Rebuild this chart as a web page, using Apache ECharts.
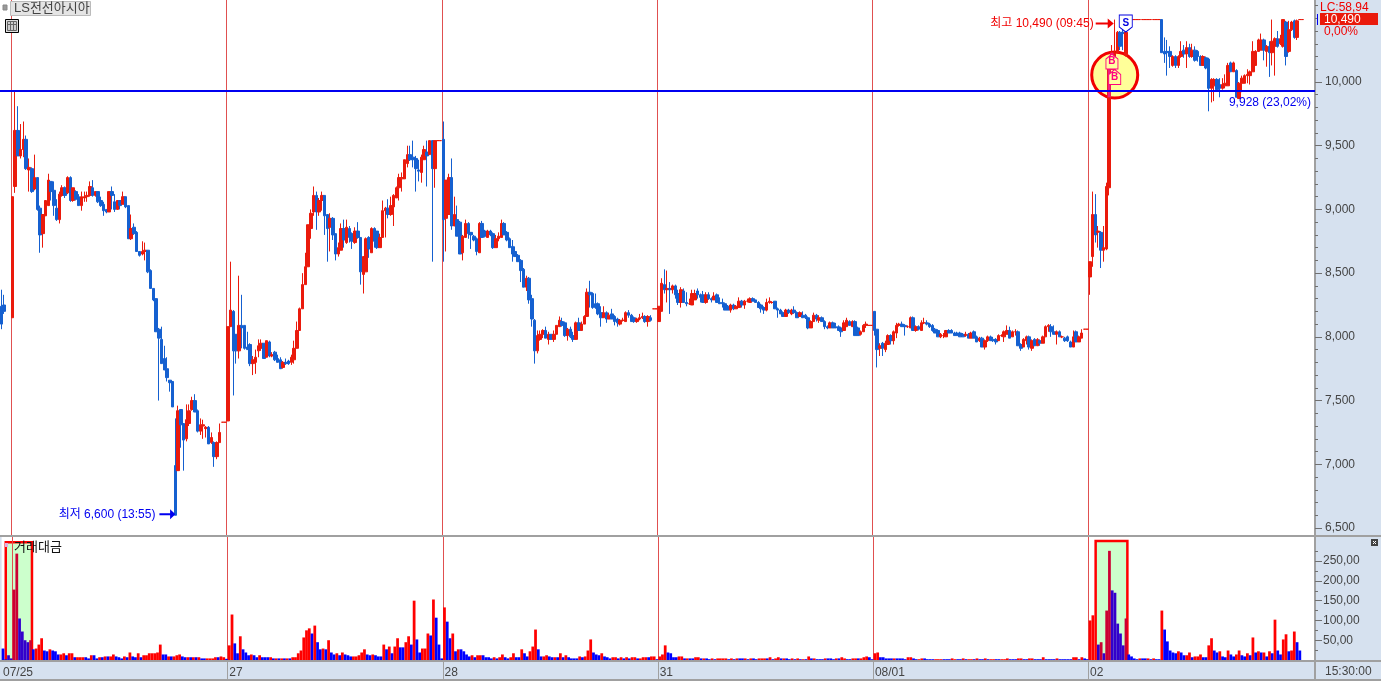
<!DOCTYPE html>
<html><head><meta charset="utf-8">
<style>html,body{margin:0;padding:0;background:#D6E1EF;overflow:hidden}#c{width:1381px;height:681px}</style>
<script src="https://cdn.jsdelivr.net/npm/echarts@6/dist/echarts.min.js"></script>
</head><body><div id="c"></div>
<script>
// rows are [open, close, low, high]
const ohlcPrev = [[8240,8100,8060,8370],[8250,8200,8180,8330],null,null];
const ohlc0725 = [
[8150,9100,8150,9100],[9180,9620,9130,9928],[9620,9420,9420,9810],[9420,9470,9400,9670],[9470,9550,9410,9690],[9550,9320,9310,9580],[9310,9330,9140,9400],[9320,9140,9130,9330],[9160,9250,9150,9430],[9250,9000,8990,9250],
[9010,8800,8660,9030],[8810,8960,8700,8960],[8950,9070,8950,9070],[9030,9230,9030,9280],[9220,9140,9070,9220],[9150,9030,8950,9220],[9010,8920,8910,9080],[8920,9120,8890,9140],[9110,9170,9100,9190],[9170,9110,9090,9180],
[9130,9250,9120,9260],[9250,9070,9060,9260],[9070,9170,9060,9170],[9140,9080,9070,9150],[9100,9030,9030,9120],[9030,9100,8990,9140],[9090,9100,9060,9140],[9100,9110,9060,9140],[9110,9180,9100,9220],[9170,9110,9100,9230],
[9110,9140,9100,9140],[9140,9060,9050,9140],[9070,9030,9020,9100],[9040,8990,8950,9060],[9000,8980,8970,9000],[8980,9140,8980,9140],[9140,9110,9000,9180],[9060,9000,8980,9120],[9000,9070,9000,9070],[9070,9030,9000,9070],
[9040,9100,9040,9140],[9100,9020,9010,9100],[9030,8770,8770,9030],[8770,8850,8760,8960],[8860,8810,8800,8890],[8820,8670,8670,8830],[8670,8640,8630,8670],[8650,8670,8640,8750],[8670,8680,8600,8740],[8680,8510,8500,8680],
[8520,8380,8380,8530],[8380,8290,8280,8380],[8300,8040,8040,8300],[8060,7990,7500,8070],[7980,7790,7790,8080],[7830,7740,7740,7930],[7750,7680,7650,7840],[7660,7640,7570,7660],[7650,7450,7450,7650],[6990,6600,6600,7360],
[6950,7420,6950,7460],[7430,7310,7130,7430],[7320,7190,6950,7320],[7200,7350,7180,7470],[7320,7420,7300,7470],[7430,7500,7420,7530],[7500,7410,7410,7550],[7420,7260,7250,7430],[7260,7310,7230,7360],[7300,7310,7200,7350],
[7280,7290,7210,7300],[7290,7160,7160,7300],[7170,7210,7160,7250],[7170,7060,6980,7180],[7060,7170,7040,7180],[7170,7250,7170,7320],[7330,7330,7330,7330],[7330,7330,7330,7330]];
const ohlc0727 = [
[7340,8080,7340,8080],[8080,8210,8080,8590],[8200,7890,7540,8210],[8020,7890,7790,8020],[7890,8090,7830,8480],[8090,8070,7910,8330],[8090,7910,7900,8090],[7920,7900,7900,8040],[7940,7790,7770,7950],[7790,7820,7700,7850],
[7800,7840,7710,7900],[7890,7930,7840,7980],[7910,7950,7890,7980],[7950,7830,7830,7950],[7840,7970,7840,7970],[7960,7850,7840,7970],[7850,7860,7840,7880],[7880,7820,7810,7890],[7830,7800,7800,7860],[7820,7750,7750,7840],
[7760,7800,7750,7810],[7800,7790,7780,7830],[7810,7790,7780,7820],[7800,7840,7780,7860],[7820,7910,7790,7970],[7910,8050,7910,8120],[8050,8220,8050,8230],[8220,8410,8220,8500],[8410,8550,8410,8660],[8550,8880,8550,8880],
[8850,8970,8770,9000],[8980,9110,8950,9180],[9110,8980,8840,9140],[8980,9070,8950,9090],[9070,9110,8990,9140],[9110,8950,8800,9110],[8960,8850,8590,8960],[8860,8930,8670,8970],[8930,8800,8760,8940],[8810,8650,8600,8810],
[8650,8700,8630,8740],[8680,8850,8680,8890],[8850,8760,8700,8920],[8740,8860,8730,8920],[8850,8780,8740,8870],[8810,8750,8690,8820],[8740,8830,8730,8860],[8830,8780,8770,8900],[8780,8510,8410,8780],[8490,8630,8340,8630],
[8510,8770,8510,8780],[8780,8690,8620,8790],[8660,8850,8660,8860],[8850,8750,8700,8860],[8830,8700,8690,8830],[8700,8780,8700,8810],[8780,8990,8780,9070],[8990,9010,8780,9020],[9010,8960,8930,9080],[8960,9030,8950,9100],
[9020,9110,8870,9120],[9090,9170,9090,9180],[9170,9250,9070,9280],[9240,9250,9140,9290],[9240,9390,9240,9390],[9360,9430,9330,9500],[9430,9390,9380,9500],[9410,9390,9330,9540],[9400,9320,9140,9420],[9310,9300,9220,9390],
[9290,9410,9210,9430],[9390,9470,9390,9500],[9450,9420,9180,9540],[9430,9540,9430,9540],[9540,9320,8590,9540],[9320,9540,9170,9540],[9540,9540,9540,9540],[9540,9540,9540,9540]];
const ohlc0728 = [
[9550,8920,8590,9690],[8930,9230,8670,9230],[8960,9250,8960,9280],[9250,8870,8840,9400],[8870,8960,8870,9100],[8920,8790,8790,9030],[8900,8650,8650,8910],[8660,8790,8600,8800],[8780,8890,8780,8920],[8890,8810,8770,8900],
[8820,8800,8690,8820],[8790,8760,8750,8800],[8770,8670,8640,8780],[8660,8890,8660,8900],[8890,8780,8780,8910],[8830,8790,8780,8840],[8780,8830,8780,8840],[8830,8800,8790,8840],[8810,8700,8690,8820],[8700,8770,8700,8800],
[8770,8790,8750,8820],[8780,8890,8780,8920],[8890,8800,8800,8900],[8820,8760,8750,8830],[8770,8700,8700,8780],[8710,8650,8590,8760],[8670,8630,8630,8710],[8640,8590,8590,8650],[8600,8520,8430,8610],[8530,8390,8390,8540],
[8390,8460,8360,8480],[8460,8290,8260,8470],[8300,8140,8080,8330],[8130,7890,7790,8140],[7890,8010,7870,8050],[7980,8020,7970,8050],[8020,8050,7990,8060],[8050,7990,7990,8080],[7980,8020,7940,8040],[8020,7980,7980,8020],
[7980,8020,7960,8050],[8020,8090,8020,8090],[8080,8130,8080,8160],[8120,8090,8080,8150],[8110,8010,8000,8120],[8010,8060,7970,8070],[8060,8000,7990,8080],[8010,7980,7960,8040],[7980,8110,7980,8120],[8110,8050,8050,8150],
[8050,8100,8050,8120],[8100,8160,8100,8170],[8160,8350,8160,8380],[8350,8330,8230,8440],[8340,8230,8220,8350],[8260,8230,8220,8340],[8260,8180,8170,8270],[8190,8150,8080,8240],[8150,8190,8150,8240],[8190,8140,8110,8200],
[8140,8170,8140,8190],[8180,8140,8140,8220],[8160,8120,8090,8170],[8140,8110,8080,8150],[8100,8130,8090,8140],[8130,8130,8120,8150],[8120,8190,8120,8200],[8190,8170,8150,8210],[8170,8120,8120,8180],[8150,8120,8110,8160],
[8120,8140,8110,8150],[8140,8150,8130,8180],[8150,8160,8140,8190],[8160,8120,8110,8170],[8120,8160,8080,8170],[8150,8130,8120,8170],[8220,8220,8220,8220],[8220,8220,8220,8220]];
const ohlc0731 = [
[8120,8240,8120,8240],[8200,8420,8200,8460],[8410,8370,8340,8530],[8370,8380,8270,8520],[8380,8370,8180,8430],[8370,8400,8340,8410],[8400,8330,8300,8410],[8340,8270,8250,8370],[8270,8370,8230,8390],[8360,8270,8270,8380],
[8270,8260,8240,8350],[8260,8260,8250,8300],[8250,8340,8250,8370],[8290,8340,8290,8370],[8360,8330,8300,8380],[8330,8310,8270,8340],[8330,8270,8270,8360],[8270,8330,8260,8350],[8330,8300,8290,8350],[8300,8290,8270,8310],
[8290,8320,8290,8350],[8330,8270,8270,8340],[8270,8260,8260,8310],[8270,8260,8230,8300],[8260,8210,8210,8270],[8240,8210,8210,8250],[8210,8250,8190,8260],[8250,8220,8210,8260],[8220,8240,8220,8250],[8230,8280,8230,8310],
[8280,8250,8230,8290],[8250,8280,8220,8290],[8280,8280,8270,8300],[8270,8300,8270,8310],[8300,8280,8280,8310],[8290,8270,8270,8290],[8270,8230,8230,8280],[8250,8220,8190,8260],[8230,8210,8180,8240],[8210,8270,8200,8300],
[8270,8280,8260,8310],[8270,8270,8260,8280],[8280,8220,8220,8280],[8220,8210,8150,8230],[8210,8180,8180,8220],[8190,8160,8160,8200],[8160,8210,8160,8220],[8210,8190,8180,8220],[8180,8210,8170,8220],[8210,8190,8180,8240],
[8190,8150,8150,8200],[8160,8190,8160,8200],[8170,8150,8150,8200],[8170,8150,8140,8180],[8150,8070,8060,8160],[8070,8120,8070,8130],[8120,8170,8120,8190],[8170,8140,8120,8180],[8130,8150,8110,8170],[8150,8120,8120,8160],
[8120,8080,8060,8130],[8080,8070,8060,8090],[8070,8110,8070,8120],[8110,8070,8070,8120],[8080,8070,8070,8110],[8080,8050,8050,8090],[8070,8040,8000,8080],[8050,8110,8050,8130],[8080,8130,8080,8150],[8120,8090,8090,8130],
[8080,8120,8080,8130],[8120,8010,8010,8130],[8070,8010,8010,8080],[8020,8040,8010,8050],[8040,8090,8040,8100],[8090,8100,8070,8120],[8090,8090,8090,8090],[8090,8090,8090,8090]];
const ohlc0801 = [
[8200,8050,8010,8200],[8060,7900,7760,8060],[7910,7930,7850,7950],[7950,7910,7850,7960],[7900,7950,7880,7970],[7940,8010,7940,8020],[8010,7970,7940,8020],[7970,8040,7940,8050],[8030,8090,7990,8110],[8090,8100,8080,8110],
[8100,8080,8080,8120],[8090,8080,8010,8100],[8080,8080,8070,8090],[8070,8150,8070,8160],[8150,8050,8050,8160],[8050,8080,8040,8090],[8080,8060,8050,8090],[8050,8110,8050,8130],[8110,8110,8100,8150],[8110,8100,8090,8130],
[8100,8080,8070,8110],[8090,8050,8040,8100],[8060,8030,8030,8070],[8050,8000,8000,8060],[8000,8020,7990,8030],[8010,8010,7990,8030],[8000,8050,8000,8050],[8050,8030,8030,8060],[8050,8030,8030,8060],[8030,8010,8010,8040],
[8030,8010,8010,8040],[8030,8000,8000,8040],[8020,8000,8000,8030],[8010,8020,8000,8040],[8020,7990,7990,8030],[7990,8030,7990,8040],[8040,7990,7990,8050],[8000,7960,7960,8010],[7970,7990,7960,8000],[7990,7920,7920,8000],
[7920,7970,7900,7980],[7970,8000,7960,8010],[8000,7970,7970,8010],[7980,7970,7960,8000],[7980,7960,7940,7990],[7970,8010,7970,8020],[8010,8010,8000,8020],[8000,8040,7960,8050],[8020,8050,8020,8090],[8050,7990,7990,8080],
[8000,8040,8000,8050],[8040,8040,8010,8060],[8040,7930,7930,8050],[7940,7910,7890,7950],[7920,7980,7920,7990],[7970,8000,7940,8010],[8000,7920,7900,8010],[7910,7970,7890,7980],[7980,7930,7930,7990],[7930,7980,7930,7990],
[7970,7950,7930,7980],[7950,8000,7950,8010],[8000,8080,8000,8090],[8080,8090,8040,8100],[8080,8040,8000,8100],[8040,8020,8020,8090],[8020,8040,7940,8050],[8040,8000,8000,8050],[8000,8000,7990,8010],[7990,7970,7960,8000],
[8000,7970,7960,8010],[7960,7920,7920,7970],[7920,8000,7920,8050],[8040,7960,7960,8050],[7960,8000,7960,8010],[7990,8030,7990,8060],[8060,8060,8060,8060],[8060,8060,8060,8060]];
const ohlc0802 = [
[8470,8590,8330,8590],[8630,8960,8550,9140],[8960,8800,8740,9120],[8820,8830,8700,8870],[8820,8680,8540,8830],[8680,8700,8590,8870],[8690,9180,8680,9210],[9170,10100,9110,10110],[10100,10230,10100,10290],[10100,10230,10090,10490],
[10230,10390,10230,10400],[10390,10280,10250,10400],[10390,10380,10250,10490],[10210,10390,10200,10490],[10490,10490,10490,10490],[10490,10490,10490,10490],[10490,10490,10490,10490],[10490,10490,10490,10490],[10490,10490,10490,10490],[10490,10490,10490,10490],
[10490,10490,10490,10490],[10490,10490,10490,10490],[10490,10490,10490,10490],[10490,10490,10490,10490],[10490,10490,10490,10490],[10490,10490,10490,10490],[10490,10230,10230,10490],[10240,10220,10150,10350],[10240,10230,10050,10330],[10240,10200,10110,10280],
[10130,10200,10120,10210],[10200,10130,10110,10210],[10130,10200,10110,10210],[10200,10240,10190,10320],[10250,10220,10190,10290],[10220,10270,10110,10320],[10270,10200,10190,10300],[10200,10250,10190,10300],[10250,10170,10160,10280],[10240,10200,10160,10250],
[10200,10130,10130,10210],[10130,10200,10130,10210],[10190,10110,10100,10200],[10180,9950,9770,10190],[9950,10020,9840,10030],[9970,10020,9850,10030],[10020,9940,9930,10030],[9980,9950,9880,10030],[9950,9980,9940,10030],[9970,9990,9950,10060],
[9970,10130,9970,10150],[10150,10080,10080,10160],[10080,10150,10080,10160],[10090,9880,9880,10100],[9870,9990,9870,10000],[9990,10030,9920,10050],[9990,10050,9990,10060],[10050,10060,9990,10100],[10050,10080,9980,10090],[10080,10240,10080,10320],
[10130,10240,10130,10250],[10240,10330,10240,10340],[10250,10330,10250,10380],[10330,10250,10170,10340],[10240,10280,10120,10290],[10280,10230,10040,10320],[10230,10320,10130,10490],[10280,10340,10050,10350],[10340,10280,10270,10400],[10300,10340,10290,10370],
[10280,10490,10270,10490],[10470,10200,10130,10480],[10240,10410,10230,10480],[10410,10470,10400,10480],[10480,10350,10340,10490],[10350,10480,10330,10490],[10490,10490,10490,10490],[10490,10490,10490,10490]];
const ohlcRows = [...ohlcPrev,...ohlc0725,...ohlc0727,...ohlc0728,...ohlc0731,...ohlc0801,...ohlc0802,null,null,null,null];

// traded value per bar; negative = drawn blue
const volPrev = [-29,-2,-12,-4];
const vol0725 = [178,269,-105,-72,-50,-45,50,-27,29,39, 55,-24,-22,27,-24,-22,-14,14,17,-12, 17,17,-7,7,7,7,-7,-4,12,-12, -4,7,-7,9,-9,9,14,-9,-7,-4, 9,-7,19,-9,-7,17,-7,12,12,17, 17,17,19,39,-14,-14,9,-9,9,12, 14,-9,-7,7,-7,7,-7,7,-4,-4, 4,4,4,7,-7,9,7,-3];
const vol0727 = [37,115,-42,-17,60,-27,-19,-12,14,-12, -7,12,-7,-7,-7,7,-4,4,-4,4, -4,4,-4,7,7,17,24,57,75,80, -67,87,-45,-27,29,-27,50,-19,-14,17, -12,19,-14,-12,-9,9,9,12,19,27, -14,-12,14,-12,-9,-9,39,-27,34,-17, 34,55,-32,-32,45,60,-39,150,-52,-19, 29,29,67,-62,153,-107,-39,-4];
const vol0728 = [133,-97,-55,67,-22,27,-27,-22,-14,-9, 12,-7,12,12,-12,-7,-7,-4,7,-4, 7,14,-7,-4,7,17,-7,-7,27,-17, -9,22,34,77,-27,-9,9,12,-9,-7, 7,-7,17,-7,12,-7,-4,-4,-4,9, -7,9,24,52,-19,-14,-12,17,-9,-7, -4,7,7,-4,7,-4,7,-4,7,7, -4,4,7,7,-7,9,9,-2];
const vol0731 = [9,14,37,-19,-17,-7,-7,9,9,-4, 4,-4,-4,7,7,-4,4,-4,-2,4, -2,4,4,4,4,-2,4,-2,4,-4, -4,4,-2,4,-4,-2,4,4,4,-4, 7,-2,4,7,-4,4,-4,-2,4,-2, 4,-2,2,-2,9,-4,4,-2,-2,-2, 4,-4,-4,-2,4,-4,7,4,-2,-2, 4,4,-4,4,7,9,-7,-2];
const vol0801 = [17,19,-7,-7,-4,-4,-4,4,-4,-4, -4,-2,7,7,-4,-2,2,4,-4,-2, -2,-2,2,2,2,-2,-2,-2,4,2, -2,-2,4,-2,2,2,-2,4,-2,-2, 4,-2,2,2,-2,-2,2,2,4,-2, -2,-2,4,4,-2,-2,4,4,-2,-2, -2,7,-2,-2,-2,-2,4,-2,-2,-2, -2,-2,7,7,-2,7,-4,-2];
const vol0802 = [100,113,0,-39,45,-17,125,276,-176,-170, -92,-67,-37,105,-14,-9,-4,-2,4,-4, -4,4,-2,4,-2,-2,125,-77,-47,-24, -19,-17,22,-19,-12,12,19,-7,9,9, 14,-7,-7,37,55,-24,-19,22,-9,-7, 24,-14,-9,14,24,-12,-9,17,-12,57, -19,22,-19,19,-9,22,-17,102,-24,-14, 52,65,-22,24,72,-45,-24,0];
const volRows = [...volPrev,...vol0725,...vol0727,...vol0728,...vol0731,...vol0801,...vol0802,0,0,0,0];

const dayNames = ['07/25','07/27','07/28','07/31','08/01','08/02'];
const dayFirstBar = [4,82,160,238,316,394];
const dayAxisLabels = ['07/25','27','28','31','08/01','02'];
const dayLabelBar = [0,82,160,238,316,394];
const priceTicks = [6500,7000,7500,8000,8500,9000,9500,10000];
const priceMinorTicks = [6500,6600,6700,6800,6900,7000,7100,7200,7300,7400,7500,7600,7700,7800,7900,8000,8100,8200,8300,8400,8500,8600,8700,8800,8900,9000,9100,9200,9300,9400,9500,9600,9700,9800,9900,10000,10100,10200,10300,10400,10500,10600];
const volTicks = [50,100,150,200,250];
const volMinorTicks = [25,75,125,175,225,275];
const highBar = 403, lowBar = 63, lowValue = 6600, markLevel = 9928;
const highlightBoxes = [[1,10,298],[396,407,301]];
const pinkSegments = [[401,9880,10110],[402,10100,10230]];

const categories = ohlcRows.map((_, i) => {
  let d = dayFirstBar.length - 1;
  while (d >= 0 && i < dayFirstBar[d]) d--;
  if (d < 0) return '07/24 ' + (15 + ':' + String(10 + (i * 5)).padStart(2, '0'));
  const m = 540 + (i - dayFirstBar[d]) * 5;
  return dayNames[d] + ' ' + String(Math.floor(m / 60)).padStart(2, '0') + ':' + String(m % 60).padStart(2, '0');
});
const UP='#EA1A0C', DOWN='#1560D0', GRAY='#A0A0A0', TICK='#707070', LABEL='#444444', DAYLINE='#E05050';
const FONT='"Liberation Sans","Noto Sans CJK KR",sans-serif';
const inBox = i => highlightBoxes.some(b => i >= b[0] && i <= b[1]);
const chart = echarts.init(document.getElementById('c'), null, {renderer:'canvas', width:1381, height:681});
const arrowR = 'path://M0,4 L12,4 L12,0 L18,5 L12,10 L12,6 L0,6 Z';
const flag = (coord, path, size, text, stroke, fill) => ({
  coord, symbol:path, symbolSize:size,
  itemStyle:{color:fill, borderColor:stroke, borderWidth:1},
  label:{show:true, position:'inside', formatter:text, color:stroke, fontSize:10, fontWeight:'bold', fontFamily:FONT}
});
const xBase = (grid, extra) => Object.assign({
  type:'category', gridIndex:grid, data:categories, boundaryGap:true, position:'bottom',
  axisLine:{show:false},
  axisTick:{show:false},
  axisLabel:{show:false},
  splitLine:{show:false}
}, extra);
const yBase = (grid, min, max, ticks, len, labelled, fmt, margin) => ({
  type:'value', gridIndex:grid, position:'right', min, max, scale:true,
  splitLine:{show:false},
  axisLine:{show:labelled, onZero:false, lineStyle:{color:GRAY, width:2}},
  axisTick:{show:true, length:len, customValues:ticks, lineStyle:{color:TICK}},
  axisLabel:{show:labelled, customValues:ticks, formatter:fmt, color:LABEL, fontSize:12, fontFamily:FONT, margin}
});
// day separators sit on the left edge of each day's first bar
const dayLines = (xi, yi, z, color, below, days) => ({
  type:'custom', xAxisIndex:xi, yAxisIndex:yi, z, silent:true, clip:false, data:days.map(d=>[d]), encode:{x:0},
  renderItem:(p,api)=>{
    const g=p.coordSys, half=g.width/categories.length/2, c=api.coord([api.value(0),0]);
    const x=Math.floor(c[0]-half)+0.5;
    const y1 = below ? g.y+g.height : g.y, y2 = below ? g.y+g.height+20 : g.y+g.height;
    return {type:'line',shape:{x1:x,y1,x2:x,y2},style:{stroke:color,lineWidth:1}};
  }
});
const PMIN=6437.2, PMAX=10643.5, VMAX=311;
chart.setOption({
  animation:false,
  backgroundColor:'#D6E1EF',
  grid:[
    {left:0, top:0, width:1315, height:536, show:true, backgroundColor:'#fff', borderWidth:0},
    {left:0, top:537, width:1315, height:123, show:true, backgroundColor:'#fff', borderWidth:0}
  ],
  xAxis:[
    xBase(0),
    xBase(1,{
      axisLabel:{show:true, interval:i => dayLabelBar.includes(i), color:LABEL, fontSize:12, fontFamily:FONT, align:'left', margin:7,
        formatter:(v,i) => dayAxisLabels[dayLabelBar.indexOf(i)] || ''}
    })
  ],
  yAxis:[
    yBase(0,PMIN,PMAX,priceTicks,7,true,v=>Number(v).toLocaleString('en-US'),10),
    yBase(0,PMIN,PMAX,priceMinorTicks,3,false),
    yBase(1,0,VMAX,volTicks,7,true,v=>v+',00',8),
    yBase(1,0,VMAX,volMinorTicks,3,false)
  ],
  series:[
    dayLines(0,0,0,DAYLINE,false,dayFirstBar),
    dayLines(1,2,2,DAYLINE,false,dayFirstBar),
    dayLines(1,2,2,GRAY,true,dayFirstBar.slice(1)),
    {type:'scatter', name:'circle', xAxisIndex:0, yAxisIndex:0, z:1, silent:true, data:[[highBar,10055]], symbolSize:46,
      itemStyle:{color:'#FFFF99', borderColor:'#F00000', borderWidth:3, opacity:1}},
    {type:'candlestick', name:'LS전선아시아', xAxisIndex:0, yAxisIndex:0, z:3, barWidth:3,
      data:ohlcRows.map(r => r || ['-','-','-','-']),
      itemStyle:{color:UP, color0:DOWN, borderColor:UP, borderColor0:DOWN, borderColorDoji:UP, borderWidth:1},
      markLine:{silent:true, symbol:'none', animation:false, z:6,
        data:[{yAxis:markLevel}],
        lineStyle:{color:'#0000F0', width:2, type:'solid'},
        label:{show:true, position:'insideEndBottom', distance:[4,6], formatter:'9,928 (23,02%)', color:'#0000F0', fontSize:12, fontFamily:FONT}},
      markPoint:{silent:true, animation:false, z:8,
        data:[
          {coord:[highBar,10460], symbol:arrowR, symbolSize:[18,10], symbolOffset:[-10,0], itemStyle:{color:'#F00000'},
            label:{show:true, position:'left', distance:2, formatter:'최고 10,490 (09:45)', color:'#F00000', fontSize:12, fontFamily:FONT}},
          {coord:[lowBar,lowValue+8], symbol:arrowR, symbolSize:[16,10], symbolOffset:[-8,0], itemStyle:{color:'#0000F0'},
            label:{show:true, position:'left', distance:4, formatter:'최저 6,600 (13:55)', color:'#0000F0', fontSize:12, fontFamily:FONT}},
          flag([402,10161],'path://M6,0 L12,5 L12,15 L0,15 L0,5 Z',[12,15],'B','#FF0080','#FFFFA0'),
          flag([403,10039],'path://M6,0 L12,5 L12,15 L0,15 L0,5 Z',[12,15],'B','#FF0080','#FFFFA0'),
          flag([407,10459],'path://M0,0 L12,0 L12,12 L6,17 L0,12 Z',[13,17],'S','#0000E0','#FFFFFF')
        ]}
    },
    {type:'custom', name:'overlay', xAxisIndex:0, yAxisIndex:0, z:4, silent:true, data:pinkSegments,
      renderItem:(p,api)=>{const a=api.coord([api.value(0),api.value(1)]),b=api.coord([api.value(0),api.value(2)]);
        return {type:'rect',shape:{x:a[0]-1.5,y:b[1],width:3,height:a[1]-b[1]},style:{fill:'#F0207F'}};},
      encode:{x:0,y:[1,2]}},
    {type:'custom', name:'boxes', xAxisIndex:1, yAxisIndex:2, z:1, silent:true, clip:false, data:highlightBoxes,
      renderItem:(p,api)=>{
        const half=p.coordSys.width/categories.length/2, a=api.coord([api.value(0),0]), b=api.coord([api.value(1),api.value(2)]);
        const x0=a[0], x1=b[0]+half, y0=b[1], y1=a[1];
        return {type:'group',children:[
          {type:'rect',shape:{x:x0,y:y0,width:x1-x0,height:y1-y0},style:{fill:'#CCFFCC'}},
          {type:'polyline',shape:{points:[[x0,y1],[x0,y0],[x1,y0],[x1,y1]]},style:{fill:null,stroke:'#FF0000',lineWidth:2.5}}
        ]};
      }, encode:{x:[0,1],y:2}},
    {type:'bar', name:'거래대금', xAxisIndex:1, yAxisIndex:2, z:3, barWidth:'100%', silent:true,
      data:volRows.map((v,i)=>({value:Math.abs(v), itemStyle:{color: v>=0 ? (inBox(i)?'#CC0033':'#FF0000') : (inBox(i)?'#3300CC':'#0000FF')}}))}
  ],
  graphic:[
    {type:'line', z:50, shape:{x1:0,y1:536,x2:1381,y2:536}, style:{stroke:GRAY,lineWidth:2}},
    {type:'line', z:50, shape:{x1:0,y1:661,x2:1381,y2:661}, style:{stroke:GRAY,lineWidth:2}},
    {type:'line', z:50, shape:{x1:0,y1:680,x2:1381,y2:680}, style:{stroke:GRAY,lineWidth:2}},
    {type:'line', z:50, shape:{x1:1315,y1:661,x2:1315,y2:680}, style:{stroke:GRAY,lineWidth:2}},
    {type:'text', z:50, style:{x:1325,y:666,text:'15:30:00',fill:LABEL,font:'12px '+FONT}},
    {type:'rect', z:50, shape:{x:3,y:5,width:4,height:5}, style:{fill:'#999',stroke:'#888'}},
    {type:'rect', z:50, shape:{x:10.5,y:1.5,width:80,height:14}, style:{fill:'#E4E4E4',stroke:'#BBBBBB'}},
    {type:'text', z:51, style:{x:14,y:2,text:'LS전선아시아',fill:'#444',font:'13px '+FONT}},
    {type:'rect', z:50, shape:{x:5.5,y:19.5,width:13,height:13}, style:{fill:'#DDD',stroke:'#000'}},
    {type:'rect', z:51, shape:{x:7.5,y:21.5,width:9,height:9}, style:{fill:'#CCC',stroke:'#666'}},
    {type:'line', z:52, shape:{x1:10.5,y1:22,x2:10.5,y2:30}, style:{stroke:'#666'}},
    {type:'line', z:52, shape:{x1:13.5,y1:22,x2:13.5,y2:30}, style:{stroke:'#666'}},
    {type:'line', z:52, shape:{x1:8,y1:24.5,x2:16,y2:24.5}, style:{stroke:'#666'}},
    {type:'text', z:50, style:{x:14,y:541,text:'거래대금',fill:'#111',font:'13px '+FONT}},
    {type:'rect', z:50, shape:{x:5,y:543,width:3,height:4}, style:{fill:'#E0B0E0'}},
    {type:'rect', z:50, shape:{x:1371,y:539,width:7,height:7}, style:{fill:'#444'}},
    {type:'line', z:51, shape:{x1:1373,y1:541,x2:1376,y2:544}, style:{stroke:'#FFF'}},
    {type:'line', z:51, shape:{x1:1376,y1:541,x2:1373,y2:544}, style:{stroke:'#FFF'}},
    {type:'text', z:50, style:{x:1320,y:2,text:'LC:58,94',fill:'#F00000',font:'12px '+FONT}},
    {type:'line', z:50, shape:{x1:1317.5,y1:14,x2:1317.5,y2:25}, style:{stroke:'#0000F0'}},
    {type:'rect', z:50, shape:{x:1320,y:13,width:58,height:12}, style:{fill:'#EA1A0C'}},
    {type:'text', z:51, style:{x:1324,y:14,text:'10,490',fill:'#FFF',font:'12px '+FONT}},
    {type:'text', z:50, style:{x:1324,y:26,text:'0,00%',fill:'#F00000',font:'12px '+FONT}}
  ]
});
</script></body></html>
